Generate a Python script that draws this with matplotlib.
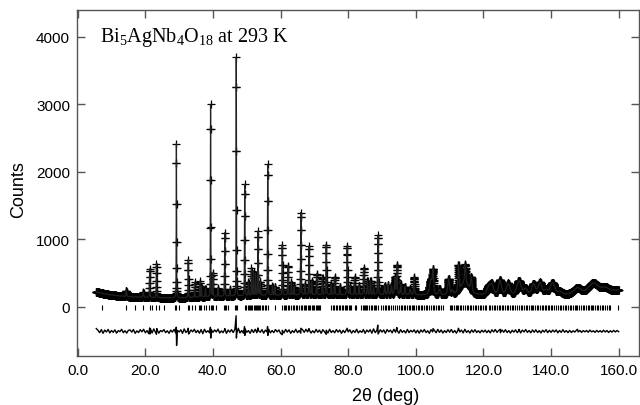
import numpy as np
import matplotlib
matplotlib.use("Agg")
import matplotlib.pyplot as plt

plt.rcParams['font.family'] = ['Liberation Sans', 'DejaVu Sans']
plt.rcParams['mathtext.default'] = 'regular'

# reflections: 2theta, height above background, fwhm
peak_pos = [14.4, 19.4, 21.3, 23.3, 29.2, 32.7, 34.6, 36.1, 36.6, 37.8, 39.3, 40.0, 41.5,
            43.5, 45.0, 46.9, 49.4, 50.5, 51.4, 52.0, 52.6, 53.3, 54.0, 56.2, 57.6, 58.3,
            60.5, 62.2, 63.2, 64.0, 66.0, 67.2, 68.4, 69.2, 70.7, 72.4, 73.5, 75.0, 76.0,
            77.5, 79.7, 80.5, 81.9, 83.2, 84.6, 85.7, 86.6, 87.5, 88.8, 90.8, 91.8, 92.8,
            93.8, 94.4, 95.5, 96.8, 98.3, 99.5, 104.5, 105.1, 107.0, 109.7, 110.8, 112.6,
            114.5, 114.6, 116.4, 121.5, 122.5, 124.9, 127.3, 130.5, 132.5, 134.8, 136.7,
            138.5, 140.4, 142.5, 147.8, 152.5, 156.0]
peak_height = [80, 70, 420, 500, 2285, 560, 220, 230, 150, 120, 2845, 345, 120,
               940, 100, 3540, 1650, 200, 400, 350, 300, 950, 200, 1940, 130, 120,
               745, 435, 185, 120, 1220, 150, 720, 200, 310, 250, 740, 150, 260,
               120, 720, 120, 260, 130, 400, 200, 200, 100, 875, 130, 140, 130,
               250, 435, 150, 120, 80, 255, 220, 300, 80, 230, 60, 380,
               190, 260, 200, 110, 140, 210, 160, 200, 80, 150, 170,
               60, 170, 40, 90, 150, 60]
peak_fwhm = [0.3, 0.3, 0.15, 0.15, 0.12, 0.15, 0.15, 0.15, 0.15, 0.15, 0.12, 0.15, 0.2,
             0.15, 0.2, 0.12, 0.15, 0.2, 0.15, 0.15, 0.15, 0.15, 0.2, 0.15, 0.2, 0.2,
             0.18, 0.18, 0.18, 0.2, 0.18, 0.2, 0.18, 0.2, 0.2, 0.2, 0.2, 0.2, 0.2,
             0.2, 0.2, 0.2, 0.2, 0.2, 0.22, 0.22, 0.22, 0.22, 0.22, 0.3, 0.3, 0.3,
             0.3, 0.3, 0.3, 0.3, 0.4, 0.3, 1.0, 0.4, 0.6, 0.6, 0.6, 0.4,
             3.0, 0.4, 0.5, 1.2, 1.2, 1.0, 1.2, 1.5, 1.2, 1.2, 1.3,
             1.2, 1.5, 1.5, 2.5, 3.5, 2.5]

# background points
bg_pos = [5.5, 7, 9, 12, 16, 20, 25, 30, 35, 40, 50, 60, 70, 80, 90, 100, 110, 120,
          130, 140, 145, 150, 155, 160]
bg_counts = [225, 205, 185, 165, 150, 145, 138, 135, 145, 155, 165, 175, 180, 182, 182,
             178, 175, 175, 178, 180, 182, 190, 210, 250]

# reflection markers
refl_pos = [7.2, 14.4, 16.9, 19.4, 21.3, 22.1, 23.3, 24.0, 25.4, 28.9, 29.2, 29.9, 32.7,
            32.9, 33.8, 34.6, 35.8, 36.1, 36.6, 37.3, 38.0, 38.8, 39.3, 39.7, 40.0, 40.8,
            43.2, 43.5, 43.9, 44.6, 46.5, 46.9, 47.1, 49.4, 49.8, 50.3, 50.6, 51.0, 51.4,
            51.7, 52.0, 52.3, 52.6, 53.0, 53.3, 53.6, 54.0, 54.4, 54.9, 55.3, 55.8, 56.2,
            58.5, 60.5, 60.9, 61.3, 61.6, 62.2, 62.6, 63.2, 63.6, 64.0, 64.5, 65.0, 65.5,
            66.0, 66.3, 66.8, 67.2, 67.6, 68.0, 68.4, 68.8, 69.2, 69.6, 70.0, 70.4, 70.7,
            71.1, 71.5, 71.8, 75.0, 75.4, 75.9, 76.3, 76.8, 77.2, 77.6, 78.1, 78.5, 79.0,
            79.4, 79.7, 80.2, 80.6, 80.9, 81.9, 82.3, 83.9, 84.3, 84.6, 85.0, 85.4, 85.7,
            86.2, 86.6, 87.0, 87.5, 87.9, 88.3, 88.8, 89.8, 90.3, 90.8, 91.2, 91.8, 92.2,
            92.8, 93.3, 93.8, 94.4, 94.9, 95.5, 95.9, 96.4, 96.8, 97.3, 97.9, 98.3, 98.8,
            99.2, 99.5, 100.0, 100.5, 101.0, 101.5, 101.9, 102.4, 102.9, 103.4, 103.9,
            104.5, 105.1, 105.5, 106.0, 106.5, 107.0, 107.5, 108.0, 110.0, 110.5, 110.8,
            111.3, 111.8, 112.2, 112.6, 113.0, 113.5, 114.0, 114.6, 115.0, 115.5, 116.0,
            116.4, 116.9, 117.4, 117.9, 118.4, 118.9, 119.4, 119.9, 120.4, 120.9, 121.5,
            122.0, 122.5, 123.0, 123.5, 124.0, 124.5, 124.9, 125.4, 125.9, 126.4, 126.9,
            127.3, 127.8, 128.3, 128.8, 129.3, 129.8, 130.5, 131.0, 131.5, 132.0, 132.5,
            133.0, 133.5, 134.0, 134.4, 134.8, 135.3, 135.8, 136.2, 136.7, 137.2, 137.7,
            138.2, 138.5, 139.0, 139.5, 140.0, 140.4, 140.9, 141.4, 141.9, 142.5, 143.0,
            143.5, 144.0, 144.5, 145.0, 145.5, 146.0, 146.5, 147.0, 147.3, 147.8, 148.3,
            148.8, 149.3, 149.8, 150.3, 150.8, 151.3, 151.8, 152.2, 152.5, 153.0, 153.5,
            154.0, 154.5, 155.0, 155.5, 156.0, 156.5, 157.0, 157.3, 159.9]

# difference curve, every 0.5 deg from 5.5 to 160.0
diff_start, diff_step = 5.5, 0.5
diff_vals = [40, 15, -20, 25, -30, 18, -10, 28, -24, 12,
             -15, 22, -28, 10, -5, 30, -20, 8, -26, 14,
             20, -12, 26, -30, 6, -18, 24, -8, 30, -22,
             10, -35, 40, -25, 35, -14, 22, -28, 12, -6,
             26, -20, 8, -30, 18, -12, 28, -24, 15, -10,
             22, -30, 35, -18, 10, -26, 20, -8, 30, -20,
             14, -28, 25, -35, 30, -15, 8, -22, 28, -16,
             20, -10, 32, -26, 6, -20, 28, -30, 18, -12,
             24, -18, 30, -40, 45, -25, 12, -28, 35, -15,
             10, -30, 26, -18, 30, -22, 8, -14, 25, -28,
             18, -10, 30, -24, 12, -20, 26, -8, 20, -30,
             15, -25, 28, -12, 22, -30, 10, -18, 30, -20,
             12, -28, 24, -16, 30, -10, 20, -26, 8, -22,
             28, -14, 18, -30, 24, -8, 16, -26, 30, -18,
             10, -22, 26, -12, 20, -30, 14, -20, 28, -10,
             22, -28, 12, -18, 30, -24, 8, -16, 26, -30,
             18, -10, 24, -28, 35, -20, 14, -26, 22, -12,
             20, -30, 26, -8, 18, -24, 30, -14, 12, -28,
             24, -16, 10, -26, 28, -20, 14, -10, 22, -24,
             16, -28, 20, -12, 26, -18, 8, -30, 24, -10,
             14, -22, 28, -16, 20, -26, 10, -18, 24, -14,
             26, -20, 12, -28, 22, -10, 18, -24, 30, -16,
             10, -26, 20, -14, 24, -18, 8, -22, 16, -12,
             18, -20, 14, -24, 22, -10, 26, -16, 12, -22,
             20, -14, 24, -18, 10, -26, 16, -12, 22, -20,
             14, -24, 18, -10, 26, -16, 12, -22, 20, -14,
             22, -18, 10, -24, 16, -12, 24, -20, 14, -16,
             18, -10, 20, -22, 12, -16, 24, -14, 10, -20,
             14, -18, 8, -12, 16, -10, 12, -16, 10, -8,
             12, -14, 18, -10, 8, -16, 14, -12, 10, -14,
             16, -10, 12, -18, 8, -12, 14, -10, 12, -6]
# sharp misfits at the strong reflections
spike_pos = [21.3, 21.4, 23.3, 23.4, 29.15, 29.25, 32.7, 32.8, 39.25, 39.35, 43.5, 46.85,
             46.95, 49.35, 49.45, 53.3, 56.15, 56.25, 60.5, 66.0, 68.4, 73.5, 79.7, 88.75,
             88.85, 94.4, 105.1, 112.6, 125.0, 130.5, 147.8]
spike_vals = [50, -40, -45, 40, 60, -210, 45, -40, 60, -100, 40, 230,
              -100, 70, -60, 50, 70, -60, -50, 45, 40, -45, 45, 90,
              -40, 55, 40, 45, 30, 28, 30]

diff_offset = -360
scan_start, scan_end, scan_step = 5.5, 159.95, 0.025


def pseudo_voigt(x, x0, h, w, eta=0.4):
    d = (x - x0) / w
    g = np.exp(-4 * np.log(2) * d ** 2)
    l = 1.0 / (1 + 4 * d ** 2)
    return h * (eta * l + (1 - eta) * g)


tth = scan_start + scan_step * np.arange(int(round((scan_end - scan_start) / scan_step)) + 1)
profile = np.interp(tth, bg_pos, bg_counts)
for p, h, w in zip(peak_pos, peak_height, peak_fwhm):
    profile = profile + pseudo_voigt(tth, p, h, w)

dx = diff_start + diff_step * np.arange(len(diff_vals))
dx = np.concatenate([dx, spike_pos])
dy = np.concatenate([diff_vals, spike_vals])
order = np.argsort(dx)
dx, dy = dx[order], dy[order]

fig = plt.figure(figsize=(6.4, 4.06), dpi=100)
ax = fig.add_axes([77 / 640, 1 - 357 / 406, 562 / 640, 346 / 406])

ax.plot(tth, profile, '+', color='black', ms=6, mew=0.9)
ax.plot(tth, profile, '-', color='#222222', lw=0.9)
ax.vlines(refl_pos, -45, 30, color='black', lw=0.8)
ax.plot(dx, dy + diff_offset, '-', color='black', lw=1.0)

ax.set_xlim(-0.2, 166)
ax.set_ylim(-726, 4400)
ax.set_xticks(range(0, 161, 20))
ax.set_xticklabels(['%.1f' % v for v in range(0, 161, 20)])
ax.set_yticks(range(0, 4001, 1000))

for s in ax.spines.values():
    s.set_color('#555555')
    s.set_linewidth(1.0)
ax.tick_params(direction='in', top=True, right=True, length=6, width=1,
               color='#555555', labelsize=11, pad=5)

ax.text((100 - 77) / 562, 0.9095, 'Bi$_5$AgNb$_4$O$_{18}$ at 293 K',
        transform=ax.transAxes, family='Liberation Serif', fontsize=14.5, va='baseline')

fig.text(386 / 640, 1 - 397 / 406, '2θ (deg)', ha='center', va='center', fontsize=13)
fig.text(18.5 / 640, 1 - 190 / 406, 'Counts', ha='center', va='center', rotation=90,
         fontsize=13)

fig.savefig('out.png', dpi=100)
